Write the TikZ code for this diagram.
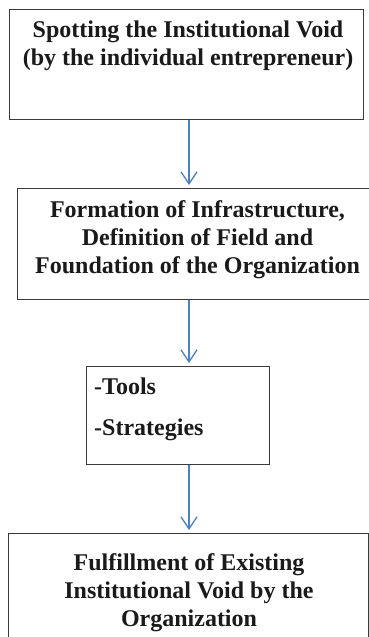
\documentclass[tikz,border=0pt]{standalone}
\usepackage{fontspec}
\setmainfont{Liberation Serif}
\usepackage{tikz}
\usetikzlibrary{arrows.meta, calc}
\definecolor{framecol}{HTML}{3A3A3A}
\definecolor{flowcol}{HTML}{4F81BD}
\definecolor{inkcol}{HTML}{1A1A1A}

\begin{document}
\begin{tikzpicture}[
    x=1pt, y=-1pt,
    stage/.style={draw=framecol, line width=1.4pt, fill=white, inner sep=0pt,
                  anchor=north west},
    caption/.style={font=\bfseries\fontsize{24}{28}\selectfont, text=inkcol,
                    align=center, inner sep=0pt, anchor=north},
    itemlist/.style={font=\bfseries\fontsize{24}{41}\selectfont, text=inkcol,
                     align=left, inner sep=0pt, anchor=north west},
    flow/.style={-{Straight Barb[length=12pt, width=16pt]}, line width=1.3pt,
                 draw=flowcol}
  ]

  % ---- Page frame ----
  \useasboundingbox (0,0) rectangle (369,637);
  \clip (0,0) rectangle (369,637);
  \fill[white] (0,0) rectangle (369,637);

  % ---- Stage boxes ----
  \node[stage, minimum width=354pt, minimum height=110pt] (spot) at (9,9) {};
  \node[stage, minimum width=361pt, minimum height=111pt] (found) at (17,188) {};
  \node[stage, minimum width=183pt, minimum height=98pt] (means) at (86,366) {};
  \node[stage, minimum width=360pt, minimum height=112pt] (fulfil) at (8,533) {};

  % ---- Box texts ----
  \node[caption] (spottxt) at (188,20.5)
    {Spotting the Institutional Void\\(by the individual entrepreneur)};
  \node[caption] (foundtxt) at (197.5,200.5)
    {Formation of Infrastructure,\\Definition of Field and\\Foundation of the Organization};
  \node[itemlist] (meanstxt) at (94,377.7) {-Tools\\-Strategies};
  \node[caption] (fulfiltxt) at (189,553.4)
    {Fulfillment of Existing\\Institutional Void by the\\Organization};

  % ---- Connectors, all on one vertical line ----
  \coordinate (spine) at (189,0);
  \draw[flow] (spot.south -| spine) -- ($(found.north -| spine)+(0,-3)$);
  \draw[flow] (found.south -| spine) -- ($(means.north -| spine)+(0,-3)$);
  \draw[flow] (means.south -| spine) -- ($(fulfil.north -| spine)+(0,-3)$);

\end{tikzpicture}
\end{document}
